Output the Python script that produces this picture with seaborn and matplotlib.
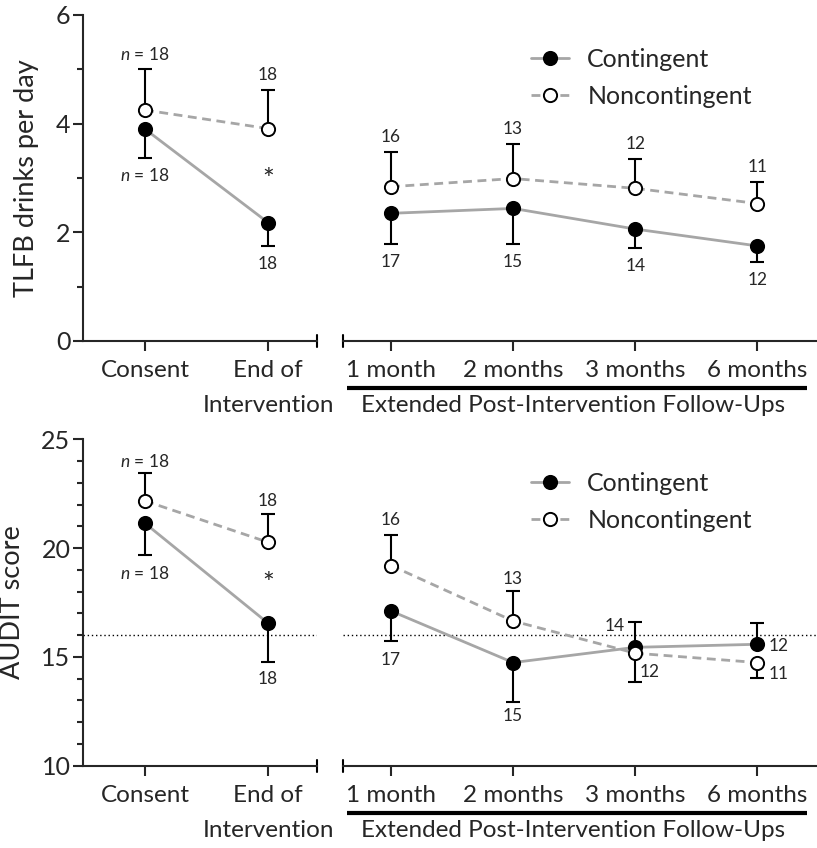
import matplotlib
matplotlib.use("Agg")
import matplotlib.pyplot as plt
from matplotlib.lines import Line2D
from matplotlib.ticker import MultipleLocator
import numpy as np
import pandas as pd
import seaborn as sns

# ---------------- data ----------------
cats_left = ["Consent", "End of\nIntervention"]
cats_right = ["1 month", "2 months", "3 months", "6 months"]

tlfb_cont = [3.90, 2.18, 2.35, 2.44, 2.06, 1.75]
tlfb_cont_err = [0.53, 0.44, 0.57, 0.66, 0.34, 0.29]
tlfb_non = [4.25, 3.91, 2.84, 2.99, 2.81, 2.53]
tlfb_non_err = [0.75, 0.71, 0.63, 0.64, 0.54, 0.40]

audit_cont = [21.14, 16.55, 17.11, 14.74, 15.44, 15.58]
audit_cont_err = [1.48, 1.78, 1.36, 1.83, 1.15, 0.97]
audit_non = [22.17, 20.27, 19.20, 16.65, 15.17, 14.74]
audit_non_err = [1.27, 1.30, 1.41, 1.38, 1.31, 0.72]

n_cont = [18, 18, 17, 15, 14, 12]
n_non = [18, 18, 16, 13, 12, 11]

audit_cutoff = 16

# ---------------- style ----------------
sns.set_style("ticks")
plt.rcParams["font.family"] = ["Lato", "DejaVu Sans"]
plt.rcParams["mathtext.fontset"] = "custom"
plt.rcParams["mathtext.it"] = "Lato:italic"
plt.rcParams["mathtext.rm"] = "Lato"

GRAY = "#a6a6a6"
W, H = 817, 848
fig = plt.figure(figsize=(W / 100, H / 100), dpi=100)

TICK_FS = 17.5
LEG_FS = 18
SMALL_FS = 12.5


def fx(px):
    return px / W


def fy(py):
    return 1 - py / H


panels = [
    dict(top=15, bot=341, ylim=(0, 6), major=2, minor=1, ylabel="TLFB drinks per day",
         cont=tlfb_cont, cerr=tlfb_cont_err, non=tlfb_non, nerr=tlfb_non_err,
         cdir=[-1, -1, -1, -1, -1, -1], ndir=[1, 1, 1, 1, 1, 1],
         cut=None,
         coff=[(0, -18)] * 6, noff=[(0, 15)] * 6,
         star=2.95, leg_top=48),
    dict(top=439.3, bot=765.7, ylim=(10, 25), major=5, minor=1, ylabel="AUDIT score",
         cont=audit_cont, cerr=audit_cont_err, non=audit_non, nerr=audit_non_err,
         cdir=[-1, -1, -1, -1, 1, 1], ndir=[1, 1, 1, 1, -1, -1],
         cut=audit_cutoff,
         coff=[(0, -18), (0, -17), (0, -19), (0, -14), (-21, -4), (21, None)],
         noff=[(0, 12), (0, 13), (0, 15), (0, 12), (14, 10), (21, None)],
         star=18.3, leg_top=472),
]

for P in panels:
    hgt = P["bot"] - P["top"]
    axL = fig.add_axes([fx(83), fy(P["bot"]), fx(317 - 83), hgt / H])
    axR = fig.add_axes([fx(343), fy(P["bot"]), fx(816 - 343), hgt / H])

    for ax, cats, sl in ((axL, cats_left, slice(0, 2)), (axR, cats_right, slice(2, 6))):
        xs = np.arange(len(cats))
        df = pd.DataFrame({
            "x": np.concatenate([xs, xs]),
            "y": list(P["cont"][sl]) + list(P["non"][sl]),
            "group": ["Contingent"] * len(cats) + ["Noncontingent"] * len(cats),
        })
        sns.lineplot(data=df, x="x", y="y", hue="group", style="group",
                     palette={"Contingent": GRAY, "Noncontingent": GRAY},
                     dashes={"Contingent": "", "Noncontingent": (3.2, 2.0)},
                     markers={"Contingent": "o", "Noncontingent": "o"},
                     linewidth=2.0, ax=ax, legend=False, zorder=3, errorbar=None)
        lines = ax.get_lines()
        for ln, face in zip(lines[-2:], ["black", "white"]):
            ln.set_markerfacecolor(face)
            ln.set_markeredgecolor("black")
            ln.set_markersize(9.5)
            ln.set_markeredgewidth(1.4)

        # one-sided error bars
        for vals, errs, dirs in ((P["cont"], P["cerr"], P["cdir"]), (P["non"], P["nerr"], P["ndir"])):
            v = np.array(vals[sl])
            e = np.array(errs[sl])
            d = np.array(dirs[sl])
            lower = np.where(d < 0, e, 0)
            upper = np.where(d > 0, e, 0)
            ax.errorbar(xs, v, yerr=[lower, upper], fmt="none", ecolor="black",
                        elinewidth=1.5, capsize=4.8, capthick=1.5, zorder=2)

        # n labels
        for is_cont, (vals, errs, dirs, ns, offs) in enumerate((
                (P["non"], P["nerr"], P["ndir"], n_non, P["noff"]),
                (P["cont"], P["cerr"], P["cdir"], n_cont, P["coff"]))):
            for j, i in enumerate(range(sl.start, sl.stop)):
                dx, dy = offs[i]
                if dy is None:
                    anchor = vals[i]
                    dy = -2 if is_cont else -11
                else:
                    anchor = vals[i] + dirs[i] * errs[i]
                txt = str(ns[i])
                if i == 0:
                    txt = r"$n$ = " + txt
                ax.annotate(txt, (j, anchor), xytext=(dx, dy), textcoords="offset pixels",
                            ha="center", va="center", fontsize=SMALL_FS, zorder=5)

        ax.set_xticks(xs)
        ax.set_xticklabels(cats, fontsize=TICK_FS, linespacing=1.8)
        ax.set_ylim(*P["ylim"])
        ax.set_xlabel("")
        ax.set_ylabel("")
        if P["cut"] is not None:
            ax.axhline(P["cut"], color="black", linestyle=(0, (1, 2)), linewidth=1.0, zorder=1)
        ax.tick_params(axis="x", direction="out", length=7, width=1.5, pad=7)
        for s in ("top", "right"):
            ax.spines[s].set_visible(False)
        ax.spines["bottom"].set_linewidth(1.5)
        ax.patch.set_alpha(0)

    axL.set_xlim(-0.504, 1.398)
    axR.set_xlim(-0.393, 3.48)
    axL.annotate("*", (1, P["star"]), ha="center", va="center", fontsize=20)

    # y axis styling
    axL.yaxis.set_major_locator(MultipleLocator(P["major"]))
    axL.yaxis.set_minor_locator(MultipleLocator(P["minor"]))
    axL.tick_params(axis="y", which="major", direction="out", length=7, width=1.5,
                    labelsize=18, pad=2)
    axL.tick_params(axis="y", which="minor", direction="out", length=4, width=1.5)
    axL.spines["left"].set_linewidth(1.5)
    axL.set_ylabel(P["ylabel"], fontsize=19.5, labelpad=12)
    axR.spines["left"].set_visible(False)
    axR.tick_params(axis="y", which="both", left=False, labelleft=False)

    # axis break caps
    axL.plot([1, 1], [-0.018, 0.018], transform=axL.transAxes, color="black",
             lw=1.5, clip_on=False)
    axR.plot([0, 0], [-0.018, 0.018], transform=axR.transAxes, color="black",
             lw=1.5, clip_on=False)

    # follow-up bracket
    yb = -(47 / hgt)
    axR.plot([(347 - 343) / 473, (807 - 343) / 473], [yb, yb], transform=axR.transAxes,
             color="black", lw=3, clip_on=False, solid_capstyle="butt")
    axR.text((573 - 343) / 473, -(65 / hgt), "Extended Post-Intervention Follow-Ups",
             transform=axR.transAxes, ha="center", va="center", fontsize=TICK_FS)

    # legend
    handles = [
        Line2D([], [], color=GRAY, lw=2.0, marker="o", markersize=9.5,
               markerfacecolor="black", markeredgecolor="black", markeredgewidth=1.4),
        Line2D([], [], color=GRAY, lw=2.0, ls=(0, (3.2, 2.0)), marker="o", markersize=9.5,
               markerfacecolor="white", markeredgecolor="black", markeredgewidth=1.4),
    ]
    axR.legend(handles, ["Contingent", "Noncontingent"], loc="upper left",
               bbox_to_anchor=((531 - 343) / 473, 1 - (P["leg_top"] - P["top"]) / hgt),
               frameon=False, fontsize=LEG_FS, handlelength=1.5, handletextpad=0.75,
               labelspacing=0.55, borderpad=0, borderaxespad=0)

fig.savefig("out.png", dpi=100)
